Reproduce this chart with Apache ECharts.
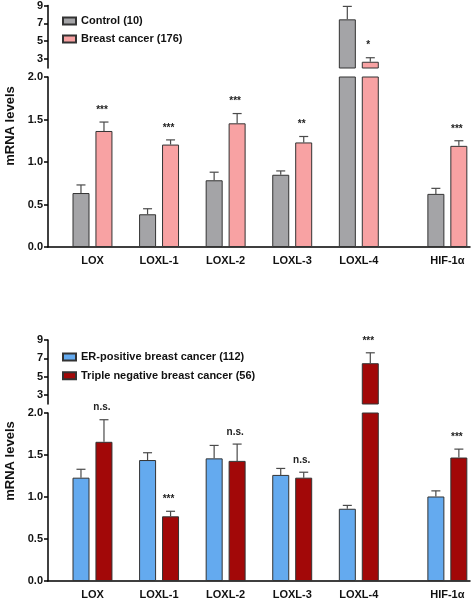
<!DOCTYPE html>
<html><head><meta charset="utf-8">
<script src="https://cdn.jsdelivr.net/npm/echarts@6/dist/echarts.min.js"></script>
<style>html,body{margin:0;padding:0;background:#fff}#c{width:472px;height:600px}</style>
</head><body><div id="c"></div>
<script>
const categories = ['LOX','LOXL-1','LOXL-2','LOXL-3','LOXL-4','HIF-1\u03b1'];
const catPos = [0, 1, 2, 3, 4, 5.33];
const controlMean = [0.635, 0.385, 0.785, 0.85, 7.45, 0.625];
const controlErr  = [0.73, 0.45, 0.88, 0.895, 8.9, 0.69];
const cancerMean  = [1.365, 1.205, 1.455, 1.23, 2.7, 1.19];
const cancerErr   = [1.47, 1.26, 1.57, 1.30, 3.15, 1.25];
const cancerSig   = ['***','***','***','**','*','***'];
const erMean = [1.23, 1.44, 1.46, 1.263, 0.86, 1.006];
const erErr  = [1.33, 1.527, 1.614, 1.34, 0.90, 1.073];
const tnMean = [1.657, 0.77, 1.43, 1.23, 6.46, 1.47];
const tnErr  = [1.92, 0.83, 1.63, 1.295, 7.6, 1.57];
const tnSig  = ['n.s.','***','n.s.','n.s.','***','***'];
const upperTicks = [3, 5, 7, 9];
const lowerTicks = [0, 0.5, 1, 1.5, 2];

const FONT = 'Liberation Sans, Arial, sans-serif';
const names = ['Control (10)','Breast cancer (176)','ER-positive breast cancer (112)','Triple negative breast cancer (56)'];
const colors = ['#a4a4a7','#f8a2a3','#64aaef','#a20808'];
const BW = 17, OFF = 11.5;

const grids = [
  {left:48, right:2, top:5, height:63},
  {left:48, right:2, top:77, height:170},
  {left:48, right:2, top:340, height:64},
  {left:48, right:2, top:413, height:169}
];
const ranges = [[2,9],[0,2],[2,9],[0,2]];

function nearestCat(v){let b=0;for(let i=0;i<catPos.length;i++){if(Math.abs(catPos[i]-v)<Math.abs(catPos[b]-v))b=i;}return categories[b];}

const xAxes = grids.map((g,i)=>({
  gridIndex:i, type:'value', min:-0.668, max:5.67,
  show: i===1 || i===3,
  splitLine:{show:false},
  axisLine:{show:true, onZero:false, lineStyle:{color:'#000', width:1.5}},
  axisTick:{show:false},
  axisLabel:{customValues:catPos, formatter:v=>nearestCat(v), fontFamily:FONT, fontWeight:'bold', fontSize:11, color:'#111', margin:8}
}));
const yAxes = grids.map((g,i)=>{
  const upper = (i%2===0);
  return {
    gridIndex:i, type:'value', min:ranges[i][0], max:ranges[i][1],
    splitLine:{show:false},
    axisLine:{show:true, onZero:false, lineStyle:{color:'#000', width:1.5}},
    axisTick:{show:true, length:4, customValues: upper?upperTicks:lowerTicks, lineStyle:{color:'#000', width:1.5}},
    axisLabel:{customValues: upper?upperTicks:lowerTicks, formatter: v=> upper? String(v) : v.toFixed(1),
      fontFamily:FONT, fontWeight:'bold', fontSize:11, color:'#111', margin:5}
  };
});

function barSeries(gi, si, data){
  return {type:'bar', name:names[si], xAxisIndex:gi, yAxisIndex:gi, barWidth:BW, barGap:'35%',
    clip:true, itemStyle:{color:colors[si], borderColor:'#333', borderWidth:1},
    data: catPos.map((p,i)=>[p, data[i]])};
}
function errSeries(gi, mean, err, sig, side){
  const [lo,hi] = ranges[gi];
  return {type:'custom', xAxisIndex:gi, yAxisIndex:gi, silent:true, z:5,
    data: catPos.map((p,i)=>[p, mean[i], err[i]]),
    renderItem(params, api){
      const x = api.value(0), m = api.value(1), e = api.value(2);
      if (hi <= 2 ? m > hi : m <= lo) return;
      const p0 = api.coord([x, m]), p1 = api.coord([x, e]);
      const cx = p0[0] + side*OFF;
      const st = {stroke:'#4a4a4a', lineWidth:1.2};
      const ch = [
        {type:'line', shape:{x1:cx, y1:p0[1], x2:cx, y2:p1[1]}, style:st},
        {type:'line', shape:{x1:cx-4.5, y1:p1[1], x2:cx+4.5, y2:p1[1]}, style:st}
      ];
      const s = sig ? sig[params.dataIndex] : '';
      if (s) ch.push({type:'text', x:cx-2, y:p1[1]-12, style:{text:s, fontFamily:FONT, fontWeight:'bold', fontSize:10, fill:'#222', align:'center', verticalAlign:'middle'}});
      return {type:'group', children:ch};
    }};
}

const series = [];
[[0,1],[2,3]].forEach((pair,panel)=>{
  const m1 = panel===0?controlMean:erMean, e1 = panel===0?controlErr:erErr;
  const m2 = panel===0?cancerMean:tnMean, e2 = panel===0?cancerErr:tnErr;
  const sg = panel===0?cancerSig:tnSig;
  [panel*2, panel*2+1].forEach(gi=>{
    series.push(barSeries(gi, pair[0], m1));
    series.push(barSeries(gi, pair[1], m2));
    series.push(errSeries(gi, m1, e1, null, -1));
    series.push(errSeries(gi, m2, e2, sg, 1));
  });
});

const legendCommon = {orient:'vertical', left:57, itemWidth:13, itemHeight:7, itemGap:6, icon:'rect',
  textStyle:{fontFamily:FONT, fontWeight:'bold', fontSize:11, color:'#111', lineHeight:12}};

const chart = echarts.init(document.getElementById('c'));
chart.setOption({
  animation:false,
  backgroundColor:'#fff',
  grid: grids,
  xAxis: xAxes,
  yAxis: yAxes,
  legend:[
    Object.assign({}, legendCommon, {top:10, data:[names[0], names[1]]}),
    Object.assign({}, legendCommon, {top:346, itemGap:6.7, data:[names[2], names[3]]})
  ],
  graphic:[
    {type:'text', x:10, y:126, rotation:Math.PI/2, style:{text:'mRNA levels', fontFamily:FONT, fontWeight:'bold', fontSize:13, fill:'#111', align:'center', verticalAlign:'middle'}},
    {type:'text', x:10, y:461, rotation:Math.PI/2, style:{text:'mRNA levels', fontFamily:FONT, fontWeight:'bold', fontSize:13, fill:'#111', align:'center', verticalAlign:'middle'}}
  ],
  series: series
});
</script></body></html>
